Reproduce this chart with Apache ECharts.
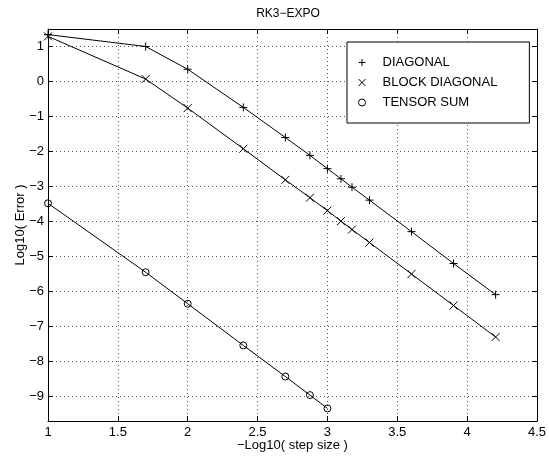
<!DOCTYPE html>
<html>
<head>
<meta charset="utf-8">
<script src="https://cdn.jsdelivr.net/npm/echarts@6/dist/echarts.min.js"></script>
<style>
  html, body { margin: 0; padding: 0; background: #fff; }
  #chart { width: 549px; height: 461px; }
</style>
</head>
<body>
<div id="chart"></div>
<script>
// -log10(step size)
const diagX = [1, 1.699, 2, 2.398, 2.699, 2.875, 3, 3.097, 3.176, 3.301, 3.602, 3.903, 4.204];
const diagY = [1.34, 1.0, 0.35, -0.74, -1.60, -2.11, -2.49, -2.78, -3.02, -3.39, -4.29, -5.20, -6.09];
const blockX = [1, 1.699, 2, 2.398, 2.699, 2.875, 3, 3.097, 3.176, 3.301, 3.602, 3.903, 4.204];
const blockY = [1.29, 0.07, -0.76, -1.92, -2.81, -3.32, -3.69, -3.99, -4.23, -4.60, -5.50, -6.40, -7.30];
const tensorX = [1, 1.699, 2, 2.398, 2.699, 2.875, 3];
const tensorY = [-3.48, -5.45, -6.35, -7.54, -8.43, -8.96, -9.34];

const yTicks = [-9, -8, -7, -6, -5, -4, -3, -2, -1, 0, 1];
const names = ['DIAGONAL', 'BLOCK DIAGONAL', 'TENSOR SUM'];

const PLUS = 'path://M5,0 L5,10 M0,5 L10,5';
const CROSS = 'path://M0,0 L10,10 M10,0 L0,10';

const font = 'Liberation Sans, Arial, Helvetica, sans-serif';
const gridDots = { show: true, lineStyle: { color: '#555', type: [1, 3], width: 1 } };

function pairs(xs, ys) {
    return xs.map((x, i) => [x, ys[i]]);
}

const chart = echarts.init(document.getElementById('chart'), null, { renderer: 'canvas' });

const baseSeries = {
    type: 'line',
    xAxisIndex: 0,
    yAxisIndex: 0,
    showAllSymbol: true,
    lineStyle: { color: '#000', width: 1 },
    itemStyle: { color: 'none', borderColor: '#000', borderWidth: 1 },
    emphasis: { disabled: true },
    z: 3
};

chart.setOption({
    animation: false,
    title: {
        text: 'RK3\u2212EXPO',
        left: 288,
        textAlign: 'center',
        top: 8,
        padding: 0,
        textStyle: { fontFamily: font, fontSize: 12, fontWeight: 'normal', color: '#000' }
    },
    legend: {
        orient: 'vertical',
        left: 347,
        top: 42,
        padding: [14, 32, 14, 9],
        itemGap: 7,
        itemWidth: 7,
        itemHeight: 7,
        borderColor: '#000',
        borderWidth: 1,
        backgroundColor: '#fff',
        selectedMode: false,
        textStyle: { fontFamily: font, fontSize: 13, color: '#000', padding: [0, 0, 0, 12] },
        itemStyle: { color: 'none', borderColor: '#000', borderWidth: 1 },
        data: [
            { name: names[0], icon: PLUS },
            { name: names[1], icon: CROSS },
            { name: names[2], icon: 'circle' }
        ]
    },
    grid: { left: 48, right: 7, top: 29, bottom: 40 },
    xAxis: [
        {
            type: 'value',
            min: 1, max: 4.5, interval: 0.5,
            name: '\u2212Log10( step size )',
            nameLocation: 'middle',
            nameGap: 18,
            nameMoveOverlap: false,
            nameTextStyle: { fontFamily: font, fontSize: 13, color: '#000' },
            axisLine: { show: true, onZero: false, lineStyle: { color: '#000', width: 1 } },
            axisTick: { show: true, inside: true, length: 5, lineStyle: { color: '#000' } },
            axisLabel: { fontFamily: font, fontSize: 13, color: '#000', margin: 5,
                         formatter: v => String(v) },
            splitLine: gridDots
        },
        {
            type: 'value',
            position: 'top',
            min: 1, max: 4.5, interval: 0.5,
            axisLine: { show: true, onZero: false, lineStyle: { color: '#000', width: 1 } },
            axisTick: { show: true, inside: true, length: 5, lineStyle: { color: '#000' } },
            axisLabel: { show: false },
            splitLine: { show: false }
        }
    ],
    yAxis: [
        {
            type: 'value',
            min: -9.7, max: 1.5,
            name: 'Log10( Error )',
            nameLocation: 'middle',
            nameGap: 21,
            nameMoveOverlap: false,
            nameTextStyle: { fontFamily: font, fontSize: 13, color: '#000' },
            axisLine: { show: true, onZero: false, lineStyle: { color: '#000', width: 1 } },
            axisTick: { show: true, inside: true, length: 5, customValues: yTicks, lineStyle: { color: '#000' } },
            axisLabel: { fontFamily: font, fontSize: 13, color: '#000', margin: 4, customValues: yTicks,
                         formatter: v => String(v).replace('-', '\u2212') },
            splitLine: gridDots
        },
        {
            type: 'value',
            position: 'right',
            min: -9.7, max: 1.5,
            axisLine: { show: true, onZero: false, lineStyle: { color: '#000', width: 1 } },
            axisTick: { show: true, inside: true, length: 5, customValues: yTicks, lineStyle: { color: '#000' } },
            axisLabel: { show: false },
            splitLine: { show: false }
        }
    ],
    series: [
        Object.assign({}, baseSeries, { name: names[0], symbol: PLUS, symbolSize: 8, data: pairs(diagX, diagY) }),
        Object.assign({}, baseSeries, { name: names[1], symbol: CROSS, symbolSize: 8, data: pairs(blockX, blockY) }),
        Object.assign({}, baseSeries, { name: names[2], symbol: 'circle', symbolSize: 7, data: pairs(tensorX, tensorY) })
    ]
});
</script>
</body>
</html>
